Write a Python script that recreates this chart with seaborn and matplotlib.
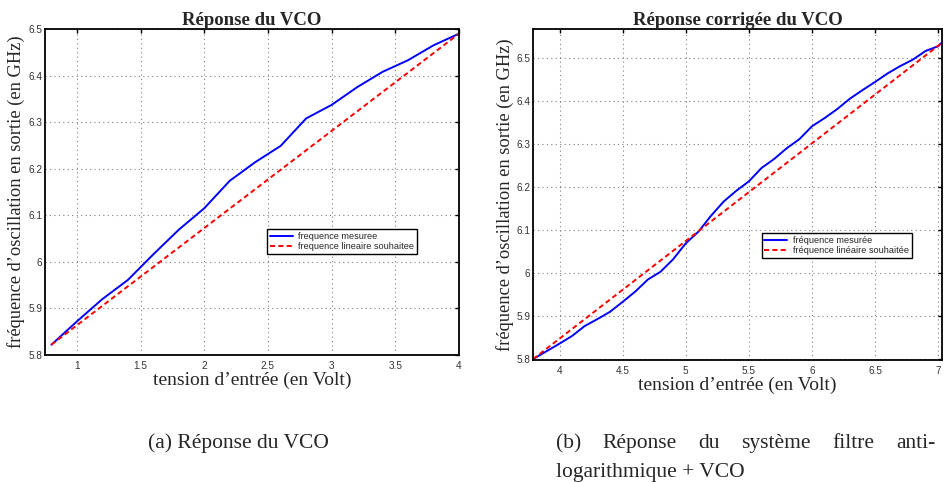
import numpy as np
import pandas as pd
import seaborn as sns
import matplotlib.pyplot as plt
from matplotlib.ticker import FormatStrFormatter, MultipleLocator

# (a) reponse du VCO
tension_a = [0.8, 1.0, 1.2, 1.4, 1.6, 1.8, 2.0, 2.2, 2.4, 2.6, 2.8, 3.0, 3.2, 3.4, 3.6, 3.8, 4.0]
freq_mes_a = [5.822, 5.872, 5.920, 5.961, 6.016, 6.069, 6.115, 6.174, 6.214, 6.249,
              6.308, 6.337, 6.375, 6.408, 6.433, 6.465, 6.490]
tension_lin_a = [0.8, 4.0]
freq_lin_a = [5.822, 6.490]
labels_a = ["frequence mesuree", "frequence lineaire souhaitee"]

# (b) reponse corrigee (filtre anti-log + VCO)
tension_b = [3.79, 4.0, 4.1, 4.2, 4.3, 4.4, 4.5, 4.6, 4.7, 4.8, 4.9, 5.0, 5.1, 5.2, 5.3, 5.4,
             5.5, 5.6, 5.7, 5.8, 5.9, 6.0, 6.1, 6.2, 6.3, 6.4, 6.5, 6.6, 6.7, 6.8, 6.9, 7.0, 7.03]
freq_mes_b = [5.800, 5.836, 5.854, 5.877, 5.893, 5.910, 5.933, 5.957, 5.985, 6.003, 6.032,
              6.069, 6.096, 6.133, 6.166, 6.191, 6.213, 6.244, 6.265, 6.290, 6.311, 6.341,
              6.360, 6.381, 6.405, 6.425, 6.444, 6.464, 6.481, 6.496, 6.516, 6.527, 6.536]
tension_lin_b = [3.79, 7.03]
freq_lin_b = [5.800, 6.535]
labels_b = ["fréquence mesurée", "fréquence linéaire souhaitée"]

caption_a = "(a) Réponse du VCO"
caption_b1 = ["(b)", "Réponse", "du", "système", "filtre", "anti-"]
caption_b2 = "logarithmique + VCO"

sns.set_style("white")
plt.rcParams['font.family'] = ['Liberation Serif', 'DejaVu Serif']

fig = plt.figure(figsize=(9.44, 4.82), dpi=100)
ax_a = fig.add_axes([45/944, 1-355/482, 414/944, 326/482])
ax_b = fig.add_axes([533/944, 1-360/482, 409/944, 331/482])


def draw_panel(ax, x_mes, y_mes, x_lin, y_lin, labels, title, xlim, ylim, xstep,
               leg_pos, ylab_x, xlab_y):
    df_mes = pd.DataFrame({'tension': x_mes, 'freq': y_mes})
    df_lin = pd.DataFrame({'tension': x_lin, 'freq': y_lin})
    sns.lineplot(data=df_mes, x='tension', y='freq', ax=ax, color='#0000ff',
                 lw=1.4, label=labels[0])
    sns.lineplot(data=df_lin, x='tension', y='freq', ax=ax, color='#ff0000',
                 lw=1.4, linestyle=(0, (2.6, 1.7)), label=labels[1])
    ax.set_xlim(*xlim)
    ax.set_ylim(*ylim)
    ax.xaxis.set_major_locator(MultipleLocator(xstep))
    ax.yaxis.set_major_locator(MultipleLocator(0.1))
    ax.xaxis.set_major_formatter(FormatStrFormatter('%g'))
    ax.yaxis.set_major_formatter(FormatStrFormatter('%g'))
    ax.tick_params(direction='in', length=3, width=1, top=True, right=True,
                   labelsize=7.2, labelcolor='#333333', labelfontfamily='Liberation Sans',
                   color='black')
    ax.tick_params(axis='x', pad=4)
    ax.tick_params(axis='y', pad=2)
    ax.grid(True, linestyle=(0, (1, 3)), color='0.5', linewidth=0.8)
    for s in ax.spines.values():
        s.set_color('black')
        s.set_linewidth(1.3)
    ax.set_title(title, fontsize=13.5, fontweight='bold', pad=3)
    ax.set_xlabel("tension d’entrée (en Volt)", fontsize=14)
    ax.set_ylabel("fréquence d’oscillation en sortie (en GHz)", fontsize=13.3)
    ax.yaxis.set_label_coords(ylab_x, 0.5)
    ax.xaxis.set_label_coords(0.5, xlab_y)
    ax.xaxis.label.set_va('top')
    leg = ax.legend(loc='lower left', bbox_to_anchor=leg_pos,
                    prop={'family': 'Liberation Sans', 'size': 6.6},
                    fancybox=False, edgecolor='black', framealpha=1,
                    handlelength=2.5, borderpad=0.3, labelspacing=0.12,
                    borderaxespad=0, handletextpad=0.6)
    leg.get_frame().set_linewidth(1.0)


draw_panel(ax_a, tension_a, freq_mes_a, tension_lin_a, freq_lin_a, labels_a,
           "Réponse du VCO", (0.75, 4.0), (5.8, 6.5), 0.5,
           (0.536, 0.31), -0.048, -0.05)
draw_panel(ax_b, tension_b, freq_mes_b, tension_lin_b, freq_lin_b, labels_b,
           "Réponse corrigée du VCO", (3.79, 7.03), (5.798, 6.567), 0.5,
           (0.559, 0.308), -0.046, -0.05)

fs_cap = 15.5
fig.text(148/944, 1-448/482, caption_a, fontsize=fs_cap, va='baseline')

# justified first line of caption (b)
renderer = fig.canvas.get_renderer()
words = [fig.text(0, 1-448/482, w, fontsize=fs_cap, va='baseline') for w in caption_b1]
widths = [w.get_window_extent(renderer).width for w in words]
x0, x1 = 556.0, 935.0
gap = (x1 - x0 - sum(widths)) / (len(words) - 1)
xpos = x0
for w, wd in zip(words, widths):
    w.set_x(xpos/944)
    xpos += wd + gap
fig.text(556/944, 1-477/482, caption_b2, fontsize=fs_cap, va='baseline')

fig.savefig("out.png", dpi=100)
